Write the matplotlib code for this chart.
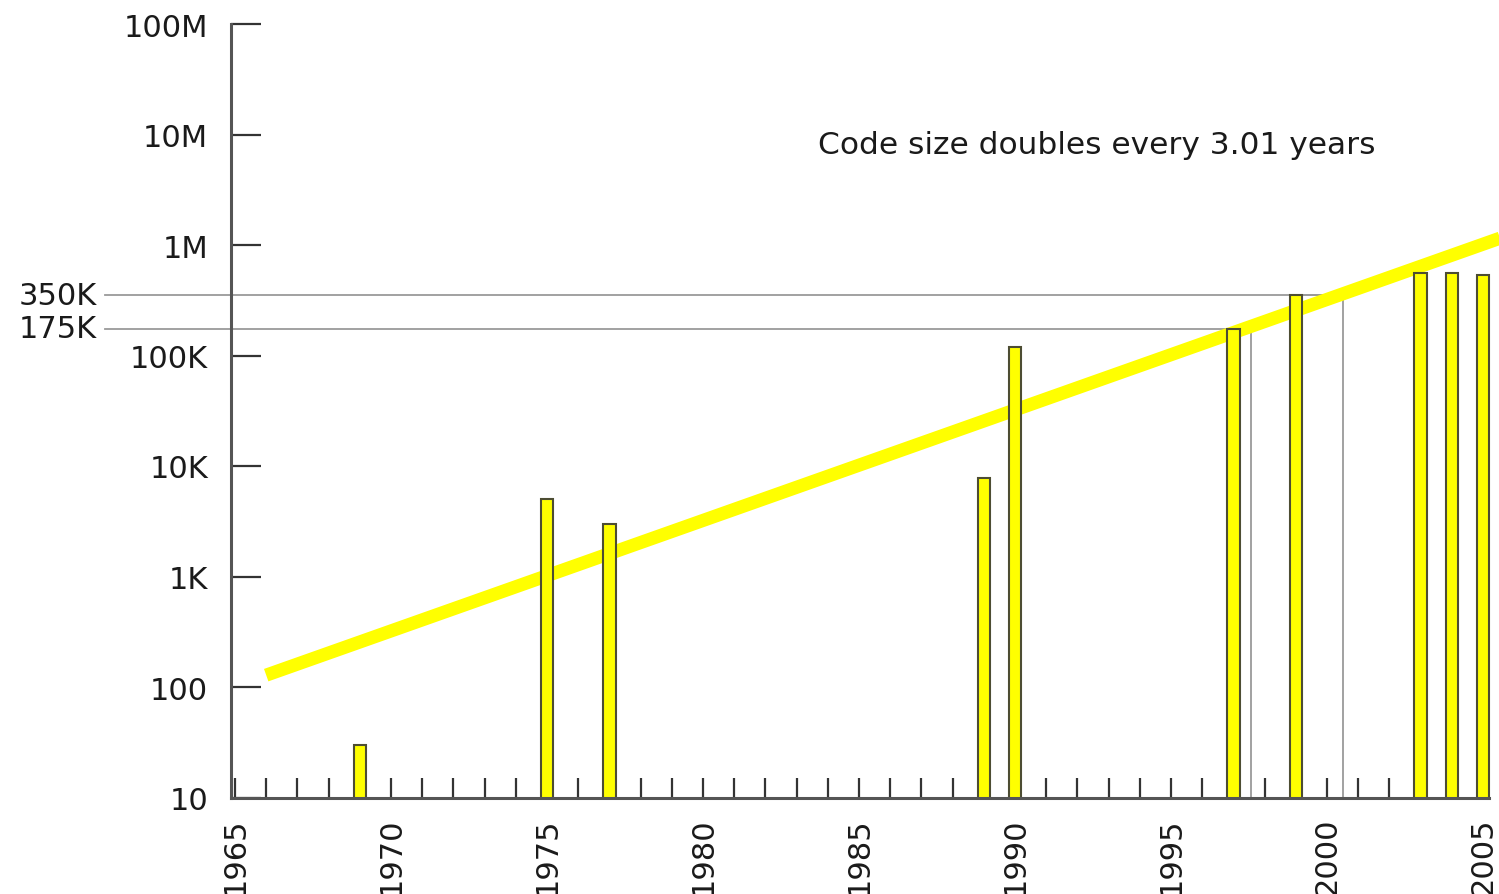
import matplotlib
matplotlib.use("Agg")
import matplotlib.pyplot as plt
import matplotlib.transforms as mtransforms
from matplotlib.ticker import FixedLocator, FixedFormatter, MultipleLocator, NullFormatter

plt.rcParams["font.family"] = ["DejaVu Sans"]

# Code size (lines) by year
years = [1969, 1975, 1977, 1989, 1990, 1997, 1999, 2003, 2004, 2005]
code_size = [30, 5000, 3000, 7800, 120000, 175000, 350000, 560000, 560000, 540000]

# Reference levels shown as open boxes spanning a release period
ref_labels = ["175K", "350K"]
ref_values = [175000, 350000]
ref_start = [1996.8, 1998.8]
ref_end = [1997.55, 2000.5]

# Exponential trend: doubling period in years
trend_start_year = 1966
trend_start_value = 128
doubling_years = 3.01
trend_end_year = 2007

y_tick_values = [1e1, 1e2, 1e3, 1e4, 1e5, 1e6, 1e7, 1e8]
y_tick_labels = ["10", "100", "1K", "10K", "100K", "1M", "10M", "100M"]
x_label_years = list(range(1965, 2006, 5))

fig = plt.figure(figsize=(14.99, 8.95), dpi=100)
ax = fig.add_axes([231 / 1499, 96.5 / 895, 1268 / 1499, 773.5 / 895])

ax.set_yscale("log")
ax.set_xlim(1964.872, 2005.51)
ax.set_ylim(10, 1e8)

dark = "#1a1a1a"
spine_col = "#555555"
bar_w = 0.4

# open boxes for the reference periods
ax.bar(ref_start, ref_values,
       width=[e - s for s, e in zip(ref_start, ref_end)],
       align="edge", fill=False, edgecolor="#9a9a9a", linewidth=1.3, zorder=2)

# trend line (drawn beneath the bars)
t_vals = [trend_start_value,
          trend_start_value * 2 ** ((trend_end_year - trend_start_year) / doubling_years)]
ax.plot([trend_start_year, trend_end_year], t_vals, color="#ffff00",
        linewidth=9.5, solid_capstyle="butt", zorder=2.5)

# yellow bars
ax.bar(years, code_size, width=bar_w, color="#ffff00",
       edgecolor="#4d4d33", linewidth=1.5, zorder=3)

# reference lines reaching out to labels left of the axis
x0, x1 = ax.get_xlim()
blend = mtransforms.blended_transform_factory(ax.transAxes, ax.transData)
line_start = (105 - 231) / 1268
for lab, val, end in zip(ref_labels, ref_values, ref_end):
    ax.plot([line_start, (end - x0) / (x1 - x0)], [val, val], transform=blend,
            color="#9a9a9a", linewidth=1.3, clip_on=False, zorder=2)
    ax.text((97 - 231) / 1268, val, lab, transform=blend, ha="right",
            va="center", fontsize=22, color=dark)

ax.text(1992.63, 8.2e6, "Code size doubles every 3.01 years",
        ha="center", va="center", fontsize=22.5, color=dark)

# axes styling
for s in ("top", "right"):
    ax.spines[s].set_visible(False)
for s in ("left", "bottom"):
    ax.spines[s].set_color(spine_col)
    ax.spines[s].set_linewidth(2.2)
    ax.spines[s].set_zorder(5)
ax.spines["bottom"].set_bounds(x0, 2005.2)

ax.yaxis.set_major_locator(FixedLocator(y_tick_values))
ax.yaxis.set_major_formatter(FixedFormatter(y_tick_labels))
ax.yaxis.set_minor_locator(FixedLocator([]))
ax.tick_params(axis="y", which="major", direction="in", length=21.6, width=1.6,
               color="#333333", pad=16.5, labelsize=22, labelcolor=dark)

ax.xaxis.set_major_locator(FixedLocator(x_label_years))
ax.xaxis.set_major_formatter(FixedFormatter([str(y) for y in x_label_years]))
ax.xaxis.set_minor_locator(MultipleLocator(1))
ax.xaxis.set_minor_formatter(NullFormatter())
ax.tick_params(axis="x", which="both", direction="in", length=14.4, width=1.6,
               color="#333333", pad=13.5, labelsize=22, labelcolor=dark,
               labelrotation=90)

fig.savefig("out.png", dpi=100)
